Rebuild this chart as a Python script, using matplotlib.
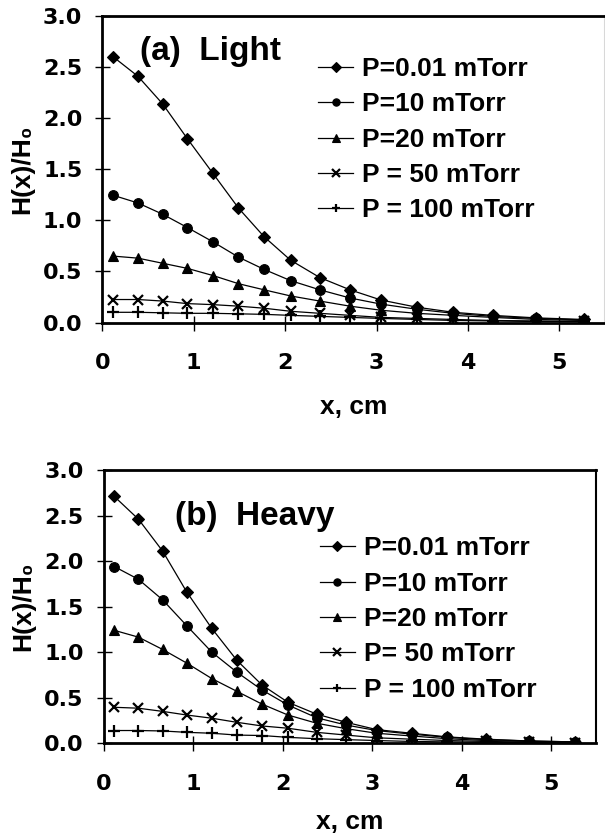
import matplotlib
matplotlib.use("Agg")
import matplotlib.pyplot as plt
from matplotlib.ticker import FormatStrFormatter, MultipleLocator

# ---------------- data ----------------
x_cm = [0.12, 0.39, 0.66, 0.93, 1.21, 1.49, 1.77, 2.06, 2.38, 2.71, 3.05, 3.44, 3.84, 4.27, 4.75, 5.27]

light_p001 = [2.60, 2.41, 2.14, 1.80, 1.46, 1.12, 0.84, 0.61, 0.44, 0.32, 0.22, 0.15, 0.10, 0.07, 0.045, 0.03]
light_p10 = [1.245, 1.17, 1.06, 0.93, 0.79, 0.64, 0.52, 0.41, 0.32, 0.24, 0.18, 0.13, 0.09, 0.06, 0.04, 0.025]
light_p20 = [0.65, 0.63, 0.58, 0.53, 0.46, 0.38, 0.32, 0.26, 0.21, 0.16, 0.12, 0.09, 0.07, 0.05, 0.03, 0.02]
light_p50 = [0.225, 0.225, 0.21, 0.185, 0.175, 0.16, 0.14, 0.11, 0.09, 0.07, 0.05, 0.04, 0.03, 0.02, 0.015, 0.01]
light_p100 = [0.10, 0.10, 0.095, 0.09, 0.09, 0.085, 0.08, 0.07, 0.06, 0.05, 0.04, 0.03, 0.02, 0.015, 0.01, 0.008]

heavy_p001 = [2.71, 2.46, 2.11, 1.66, 1.26, 0.91, 0.64, 0.45, 0.32, 0.23, 0.15, 0.11, 0.07, 0.045, 0.025, 0.015]
heavy_p10 = [1.94, 1.80, 1.575, 1.29, 1.00, 0.78, 0.585, 0.42, 0.28, 0.20, 0.14, 0.10, 0.065, 0.04, 0.025, 0.015]
heavy_p20 = [1.24, 1.165, 1.03, 0.88, 0.71, 0.57, 0.43, 0.31, 0.22, 0.16, 0.11, 0.08, 0.05, 0.03, 0.02, 0.01]
heavy_p50 = [0.395, 0.385, 0.35, 0.31, 0.275, 0.23, 0.19, 0.165, 0.12, 0.09, 0.06, 0.045, 0.03, 0.02, 0.012, 0.008]
heavy_p100 = [0.14, 0.14, 0.135, 0.12, 0.11, 0.09, 0.085, 0.065, 0.05, 0.04, 0.03, 0.02, 0.015, 0.01, 0.006, 0.004]

light_labels = ["P=0.01 mTorr", "P=10 mTorr", "P=20 mTorr", "P = 50 mTorr", "P = 100 mTorr"]
heavy_labels = ["P=0.01 mTorr", "P=10 mTorr", "P=20 mTorr", "P= 50 mTorr", "P = 100 mTorr"]
panel_titles = ["(a)  Light", "(b)  Heavy"]
x_label = "x, cm"
y_label = "H(x)/H\u2080"

# ---------------- styles ----------------
markers = ["D", "o", "^", "x", "+"]
msizes = [6.5, 7, 7, 7, 8]
TXT = ["Liberation Sans", "DejaVu Sans"]

fig = plt.figure(figsize=(6.05, 8.39), dpi=100)
ax_top = fig.add_axes([0.1691, 0.6156, 0.8309, 0.3653])
ax_bot = fig.add_axes([0.1711, 0.1141, 0.8140, 0.3257])

panels = [
    (ax_top, [light_p001, light_p10, light_p20, light_p50, light_p100], light_labels,
     (0.075, 0.856), (0.429, 0.866), 16),
    (ax_bot, [heavy_p001, heavy_p10, heavy_p20, heavy_p50, heavy_p100], heavy_labels,
     (0.145, 0.799), (0.439, 0.757), 12),
]

for i, (ax, series, labels, tpos, lpos, xlpad) in enumerate(panels):
    for ys, lab, mk, ms in zip(series, labels, markers, msizes):
        ax.plot(x_cm, ys, color="black", lw=0.9, marker=mk, ms=ms,
                mfc="black", mec="black", mew=1.6 if mk in ("x", "+") else 0.8,
                label=lab)
    ax.set_xlim(0, 5.5)
    ax.set_ylim(0, 3.0)
    ax.xaxis.set_major_locator(MultipleLocator(1))
    ax.yaxis.set_major_locator(MultipleLocator(0.5))
    ax.yaxis.set_major_formatter(FormatStrFormatter("%.1f"))
    ax.tick_params(axis="both", direction="inout", length=10.8, width=1.0,
                   labelsize=16, colors="black")
    ax.tick_params(axis="x", pad=16.5)
    ax.tick_params(axis="y", pad=9)
    for lbl in ax.get_xticklabels() + ax.get_yticklabels():
        lbl.set_fontweight("bold")
        lbl.set_family("DejaVu Sans")
    for s in ["left", "bottom", "top"]:
        ax.spines[s].set_linewidth(2.0)
    ax.spines["right"].set_linewidth(1.5)
    if i == 0:
        ax.spines["right"].set_color("#d8d8d8")
    ax.set_xlabel(x_label, fontsize=19, fontweight="bold", family=TXT, labelpad=xlpad)
    ax.set_ylabel(y_label, fontsize=19, fontweight="bold", family=TXT, labelpad=6)
    ax.text(tpos[0], tpos[1], panel_titles[i], transform=ax.transAxes,
            ha="left", va="baseline", fontsize=24, fontweight="bold", family=TXT)
    leg = ax.legend(loc="upper left", bbox_to_anchor=lpos, frameon=False,
                    borderpad=0, borderaxespad=0, handlelength=1.33,
                    handletextpad=0.33, labelspacing=0.43, markerscale=0.75,
                    prop={"family": TXT, "weight": "bold", "size": 19})

fig.savefig("out.png", dpi=100)
